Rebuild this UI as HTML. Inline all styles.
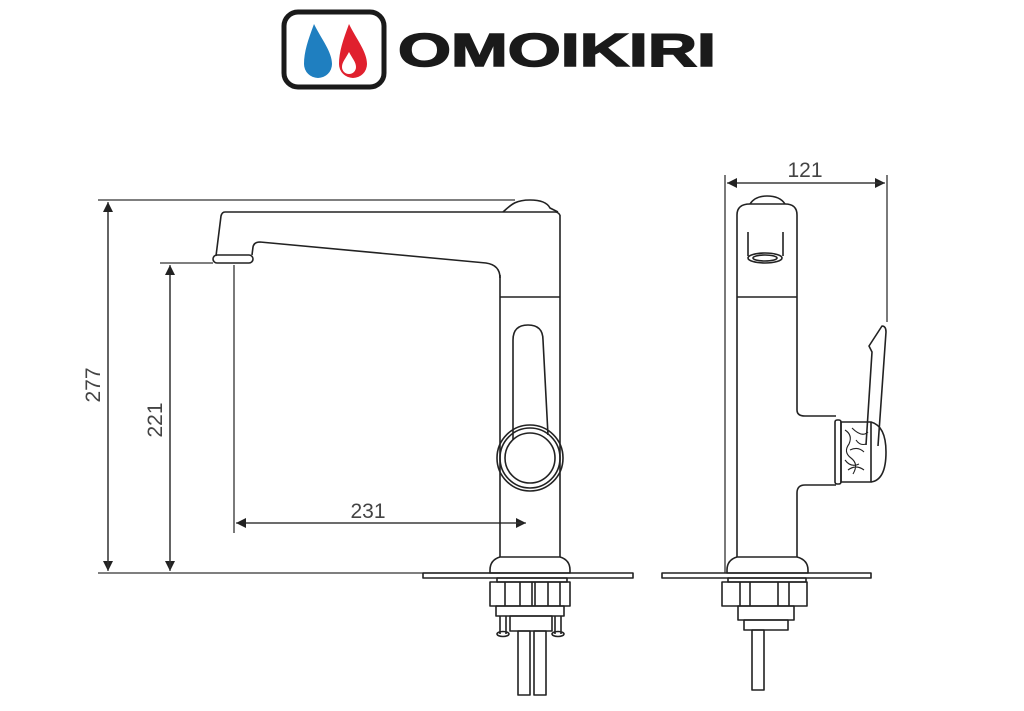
<!DOCTYPE html>
<html><head><meta charset="utf-8"><style>
html,body{margin:0;padding:0;background:#fff;width:1024px;height:711px;overflow:hidden}
svg{display:block}
</style></head><body>
<svg width="1024" height="711" viewBox="0 0 1024 711" xmlns="http://www.w3.org/2000/svg">
<defs>
<marker id="a" viewBox="0 0 10 10" refX="10" refY="5" markerWidth="10" markerHeight="10" markerUnits="userSpaceOnUse" orient="auto"><path d="M0,0 L10,5 L0,10z" fill="#222"/></marker>
</defs>
<!-- logo -->
<rect x="284" y="12" width="100" height="75" rx="14" fill="#fff" stroke="#1a1a1a" stroke-width="5"/>
<path d="M314,24 C322,40 332,52 332,64 A14,14 0 0 1 304,64 C304,52 308,40 314,24z" fill="#1f7fc0"/>
<path d="M349,24 C357,40 367,52 367,64 A14,14 0 0 1 339,64 C339,52 343,40 349,24z" fill="#e0202e"/>
<path d="M349,52 C352,58 356,62 356,67 A7,7 0 0 1 342,67 C342,62 346,58 349,52z" fill="#fff"/>
<text x="398" y="66" font-family="Liberation Sans, sans-serif" font-weight="bold" font-size="46" textLength="318" lengthAdjust="spacingAndGlyphs" fill="#1a1a1a" stroke="#1a1a1a" stroke-width="1.5">OMOIKIRI</text>

<g fill="none" stroke="#333" stroke-width="1.3">
<!-- dims left -->
<line x1="98" y1="200" x2="515" y2="200"/>
<line x1="98" y1="573" x2="500" y2="573"/>
<line x1="108" y1="205" x2="108" y2="571" marker-end="url(#a)"/>
<line x1="108" y1="568" x2="108" y2="202" marker-end="url(#a)"/>
<line x1="160" y1="263" x2="213" y2="263"/>
<line x1="170" y1="268" x2="170" y2="571" marker-end="url(#a)"/>
<line x1="170" y1="568" x2="170" y2="265" marker-end="url(#a)"/>
<line x1="234" y1="265" x2="234" y2="533"/>
<line x1="238" y1="523" x2="526" y2="523" marker-end="url(#a)"/>
<line x1="522" y1="523" x2="236" y2="523" marker-end="url(#a)"/>
<!-- dims right -->
<line x1="725" y1="175" x2="725" y2="573"/>
<line x1="887" y1="175" x2="887" y2="322"/>
<line x1="730" y1="183" x2="885" y2="183" marker-end="url(#a)"/>
<line x1="882" y1="183" x2="727" y2="183" marker-end="url(#a)"/>
</g>
<g font-family="Liberation Sans, sans-serif" font-size="21" fill="#444">
<text x="368" y="518" text-anchor="middle">231</text>
<text x="805" y="177" text-anchor="middle">121</text>
<text transform="translate(100,385) rotate(-90)" text-anchor="middle">277</text>
<text transform="translate(162,420) rotate(-90)" text-anchor="middle">221</text>
</g>

<g fill="none" stroke="#222" stroke-width="1.6" stroke-linejoin="round">
<!-- left faucet -->
<path d="M503,212 C510,206 514,200 530,200 C543,200 548,204 550,208 L558,212"/>
<path d="M560,215 L560,557 M500,275 L500,557"/>
<path d="M560,215 Q558,212 555,212 L225,212 Q222,212 221,216 L216,256"/>
<rect x="213" y="255" width="40" height="8" rx="4"/>
<path d="M252,255 L253,247 Q254,242 260,242 L486,263 Q500,265 500,278"/>
<line x1="500" y1="297" x2="560" y2="297"/>
<path d="M513,440 L513,340 Q513,325 528,325 Q543,325 543,340 L548,435"/>
<circle cx="530" cy="458" r="33"/>
<circle cx="530" cy="458" r="30"/>
<circle cx="530" cy="458" r="25"/>
<path d="M500,557 Q490,560 490,570 L490,573 L570,573 L570,570 Q570,560 560,557z"/>
<rect x="423" y="573" width="210" height="5"/>
<rect x="497" y="578" width="70" height="4"/>
<rect x="490" y="582" width="80" height="24"/>
<path d="M505,582v24M520,582v24M532,582v24M535,582v24M548,582v24M560,582v24"/>
<rect x="496" y="606" width="68" height="10"/>
<rect x="510" y="616" width="42" height="15"/>
<path d="M500,616v18M506,616v18M555,616v18M561,616v18"/>
<ellipse cx="503" cy="634" rx="6" ry="2.5"/>
<ellipse cx="558" cy="634" rx="6" ry="2.5"/>
<rect x="518" y="631" width="12" height="64"/>
<rect x="534" y="631" width="12" height="64"/>

<!-- right faucet -->
<path d="M750,204 Q755,196 767,196 Q780,196 785,204"/>
<path d="M737,557 L737,215 Q737,204 750,204 L785,204 Q797,204 797,215 L797,410 Q797,416 805,416 L836,416"/>
<path d="M836,485 L805,485 Q797,485 797,493 L797,557"/>
<line x1="737" y1="297" x2="797" y2="297"/>
<path d="M748,232 L748,256 M783,232 L783,256"/>
<ellipse cx="765" cy="258" rx="17" ry="5"/>
<ellipse cx="765" cy="258" rx="12" ry="3"/>
<rect x="835" y="420" width="6" height="64" rx="2"/>
<rect x="841" y="422" width="30" height="60"/>
<path d="M871,422 Q886,426 886,452 Q886,480 871,482"/>
<path d="M866,445 L872,352 L869,346 L882,326 Q886,326 886,332 L878,446"/>
<path d="M845,430 q8,5 4,14 q-6,8 2,14 q8,6 2,16 M852,428 q10,10 16,4 M850,450 q8,-4 14,2 M848,470 q8,-6 16,0 M856,440 q4,6 10,4 M845,460 q6,8 14,4" stroke-width="1.1"/>
<path d="M737,557 Q727,560 727,570 L727,573 L808,573 L808,570 Q808,560 797,557z"/>
<rect x="662" y="573" width="209" height="5"/>
<rect x="728" y="578" width="78" height="4"/>
<rect x="722" y="582" width="85" height="24"/>
<path d="M740,582v24M750,582v24M778,582v24M789,582v24"/>
<rect x="738" y="606" width="56" height="14"/>
<rect x="744" y="620" width="44" height="10"/>
<rect x="752" y="630" width="12" height="60"/>
</g>
</svg>
</body></html>
